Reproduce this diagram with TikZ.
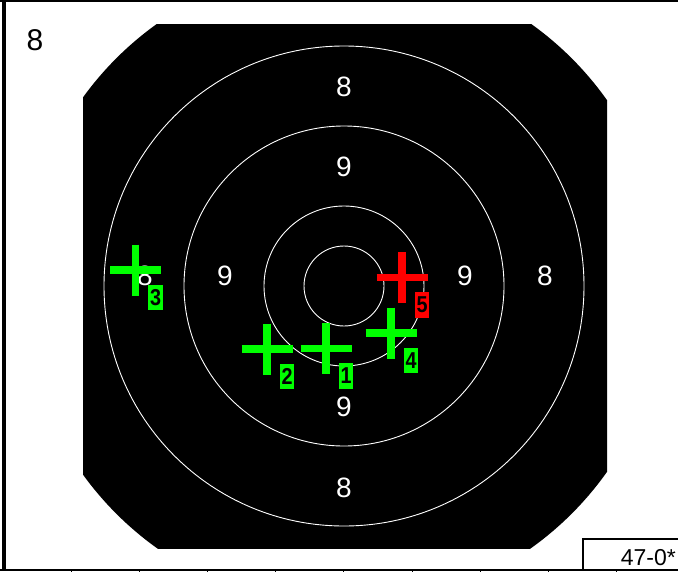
\documentclass[tikz,border=0pt]{standalone}
\usepackage{fontspec}
\setmainfont{Liberation Sans}
\definecolor{hitgreen}{RGB}{0,255,0}
\definecolor{hitred}{RGB}{255,0,0}
\tikzset{
  ring/.style={draw=white, line width=0.9pt},
  ringlab/.style={text=white, inner sep=0pt, font=\fontsize{28}{30}\selectfont},
  shotbar/.style={line width=7.3pt},
  shotlab/.style={inner sep=0pt, minimum width=14.5pt, minimum height=25.5pt, text=black,
    font=\fontsize{23}{24}\selectfont\bfseries},
  frameline/.style={draw=black, line width=2pt}
}
\newcommand{\sqz}[1]{\scalebox{0.86}[1]{#1}}
\begin{document}
\begin{tikzpicture}[x=1pt,y=-1pt]
\useasboundingbox (0,0) rectangle (678,571);
\fill[white] (0,0) rectangle (678,571);
% target
\coordinate (c) at (344,286);
\begin{scope}
  \clip (83,24) rectangle (607,548);
  \fill[black] (c) circle [radius=322pt];
\end{scope}
\draw[ring] (c) circle [radius=40pt];
\draw[ring] (c) circle [radius=80pt];
\draw[ring] (c) circle [radius=160pt];
\draw[ring] (c) circle [radius=240pt];
% ring labels
\node[ringlab] (t8) at (344,87) {8};
\node[ringlab] (t9) at (344,167) {9};
\node[ringlab] (b9) at (344,407) {9};
\node[ringlab] (b8) at (344,488) {8};
\node[ringlab] (l9) at (225,276) {9};
\node[ringlab] (r9) at (465,276) {9};
\node[ringlab] (l8) at (145,276) {8};
\node[ringlab] (r8) at (545,276) {8};
% frame
\draw[black, line width=3.5pt] (4,0) -- (4,571);
\draw[black, line width=2pt] (0,1) -- (678,1);
\draw[black, line width=2pt] (0,569.5) -- (678,569.5);
\foreach \i in {0,...,8} \draw[black, line width=1pt] (71+68.2*\i,569) -- ++(0,3);
\node[font=\fontsize{30}{32}\selectfont, inner sep=0pt] (corner) at (35,40) {8};
% score box
\draw[frameline] (583,570) |- (680,539);
\node[anchor=base east, inner sep=0pt, font=\fontsize{23}{24}\selectfont] (score) at (676,565) {47-0*};
% shots
\coordinate (s1) at (326,348.5);
\coordinate (s2) at (267,349);
\coordinate (s3) at (135.5,270);
\coordinate (s4) at (391,333);
\coordinate (s5) at (402,277.5);
\foreach \s/\col in {s1/hitgreen,s2/hitgreen,s3/hitgreen,s4/hitgreen,s5/hitred}{
  \draw[shotbar, \col] (\s) ++(-25.5,0) -- ++(51,0);
  \draw[shotbar, \col] (\s) ++(0,-25.5) -- ++(0,51);
}
\node[shotlab, fill=hitgreen] (n1) at ([shift={(20,27.5)}]s1) {\sqz{1}};
\node[shotlab, fill=hitgreen] (n2) at ([shift={(20,27.5)}]s2) {\sqz{2}};
\node[shotlab, fill=hitgreen] (n3) at ([shift={(20,27.5)}]s3) {\sqz{3}};
\node[shotlab, fill=hitgreen] (n4) at ([shift={(20,27.5)}]s4) {\sqz{4}};
\node[shotlab, fill=hitred] (n5) at ([shift={(20,27.5)}]s5) {\sqz{5}};
\end{tikzpicture}
\end{document}
